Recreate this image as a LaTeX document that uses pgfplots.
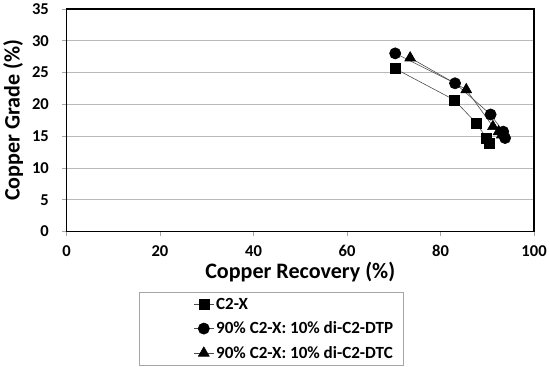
\documentclass[border=0pt]{standalone}
\usepackage{fontspec}
\setmainfont{Carlito}
\usepackage{pgfplots}
\pgfplotsset{compat=1.18}
\begin{document}
\begin{tikzpicture}
\begin{axis}[
  scale only axis,
  width=466pt, height=222pt,
  xmin=0, xmax=100, ymin=0, ymax=35,
  xtick={0,20,40,60,80,100},
  ytick={0,5,10,15,20,25,30,35},
  xtick pos=bottom, ytick pos=left,
  tick align=outside,
  major tick length=4pt,
  tick style={gray!70, line width=0.6pt},
  ymajorgrids,
  grid style={gray!55, line width=0.7pt},
  axis line style={black, line width=1.6pt},
  /pgf/number format/assume math mode=true,
  tick label style={font=\bfseries\fontsize{16.5}{16.5}\selectfont},
  xticklabel style={yshift=-6pt},
  yticklabel style={xshift=-10pt},
  label style={font=\bfseries\fontsize{22}{22}\selectfont},
  xlabel={Copper Recovery (\%)},
  ylabel={Copper Grade (\%)},
  xlabel style={yshift=1pt},
  ylabel style={yshift=2pt},
  legend style={at={(0.155,-0.27)}, anchor=north west, draw=gray!70, line width=0.7pt,
    font=\bfseries\fontsize{17}{17}\selectfont, inner xsep=8pt, inner ysep=4pt,
    row sep=7pt},
  legend cell align=left,
  legend image code/.code={%
    \path (-46pt,0pt);
    \draw[mark repeat=2,mark phase=2,#1] plot coordinates {(0pt,0pt) (10pt,0pt) (20pt,0pt)};
  },
  every axis plot/.append style={line width=0.6pt, draw=black!70},
]
\addplot[mark=square*, mark size=5pt, mark options={fill=black, draw=black, solid}]
  coordinates {(70.3,25.6) (82.9,20.7) (87.7,17.0) (89.8,14.7) (90.5,13.9)};
\addlegendentry{C2-X}
\addplot[mark=*, mark size=5.6pt, mark options={fill=black, draw=black, solid}]
  coordinates {(70.3,28.0) (83.1,23.3) (90.7,18.4) (93.4,15.7) (93.8,14.7)};
\addlegendentry{90\% C2-X: 10\% di-C2-DTP}
\addplot[mark=triangle*, mark size=6.2pt, mark options={fill=black, draw=black, solid}]
  coordinates {(73.5,27.3) (85.5,22.3) (91.2,16.5) (92.4,15.7) (93.1,15.2)};
\addlegendentry{90\% C2-X: 10\% di-C2-DTC}
\end{axis}
\end{tikzpicture}
\end{document}
